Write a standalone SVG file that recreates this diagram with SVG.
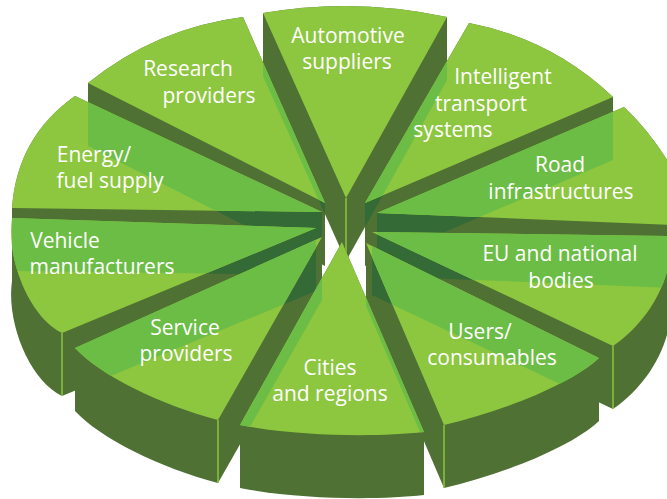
<svg xmlns="http://www.w3.org/2000/svg" xmlns:xlink="http://www.w3.org/1999/xlink" width="667" height="499" viewBox="0 0 667 499">
<style>
.top{fill:#8dc63f}
.mid{fill:#6cbd45}
.dk{fill:#4f7133}
.dk2{fill:#336a35}
.hl{stroke:#8dc63f;stroke-width:1.5;fill:none}
.lbl{font-family:"Open Sans","Noto Sans","Liberation Sans",sans-serif;font-size:21px;fill:#ffffff;text-anchor:middle}
</style>
<defs>
<path id="tAU" d="M346 198 L263 13 Q355 -3 447 17 Z"/>
<path id="tRE" d="M325 203 L88 83 Q156 28 243 17 Z"/>
<path id="tIN" d="M365 203 L469 23 Q552 39 613 97 Z"/>
<path id="tEN" d="M322 212 L75 96 Q17 137 12 208 Z"/>
<path id="tRO" d="M377 213 L624 107 Q670 150 700 226 Z"/>
<path id="tVE" d="M316 228 L12 218 C6 260 30 318 62 333 Z"/>
<path id="tEU" d="M372 232 L672 236 C672 280 650 320 613 346 Z"/>
<path id="tSE" d="M322 237 L75 348 C100 375 160 405 218 420 Z"/>
<path id="tUS" d="M366 243 L599 358 C570 385 500 412 444 425 Z"/>
<path id="tCI" d="M342 242 L424 432 C380 437 300 437 240 425 Z"/>

<path id="qAU1" d="M346 198 L263 13 L263 76 L346 261 Z"/>
<path id="qAU2" d="M346 198 L447 17 L447 80 L346 261 Z"/>
<path id="aAU" d="M263 13 Q355 -3 447 17 L447 80 Q355 60 263 76 Z"/>
<path id="qRE1" d="M325 203 L88 83 L88 146 L325 266 Z"/>
<path id="qRE2" d="M325 203 L243 17 L243 80 L325 266 Z"/>
<path id="aRE" d="M88 83 Q156 28 243 17 L243 80 Q156 91 88 146 Z"/>
<path id="qIN1" d="M365 203 L469 23 L469 86 L365 266 Z"/>
<path id="qIN2" d="M365 203 L613 97 L613 160 L365 266 Z"/>
<path id="aIN" d="M469 23 Q552 39 613 97 L613 160 Q552 102 469 86 Z"/>
<path id="qEN1" d="M322 212 L75 96 L75 159 L322 275 Z"/>
<path id="qEN2" d="M322 212 L12 208 L12 271 L322 275 Z"/>
<path id="aEN" d="M75 96 Q17 137 12 208 L12 271 Q17 200 75 159 Z"/>
<path id="qRO1" d="M377 213 L624 107 L624 170 L377 276 Z"/>
<path id="qRO2" d="M377 213 L700 226 L700 289 L377 276 Z"/>
<path id="aRO" d="M624 107 Q670 150 700 226 L700 289 Q670 213 624 170 Z"/>
<path id="qVE1" d="M316 228 L12 218 L12 281 L316 291 Z"/>
<path id="qVE2" d="M316 228 L62 333 L62 396 L316 291 Z"/>
<path id="aVE" d="M12 218 C6 260 30 318 62 333 L62 396 C30 381 6 323 12 281 Z"/>
<path id="qEU1" d="M372 232 L672 236 L672 299 L372 295 Z"/>
<path id="qEU2" d="M372 232 L613 346 L613 409 L372 295 Z"/>
<path id="aEU" d="M672 236 C672 280 650 320 613 346 L613 409 C650 383 672 343 672 299 Z"/>
<path id="qSE1" d="M322 237 L75 348 L75 411 L322 300 Z"/>
<path id="qSE2" d="M322 237 L218 420 L218 483 L322 300 Z"/>
<path id="aSE" d="M75 348 C100 375 160 405 218 420 L218 483 C160 468 100 438 75 411 Z"/>
<path id="qUS1" d="M366 243 L599 358 L599 421 L366 306 Z"/>
<path id="qUS2" d="M366 243 L444 425 L444 488 L366 306 Z"/>
<path id="aUS" d="M599 358 C570 385 500 412 444 425 L444 488 C500 475 570 448 599 421 Z"/>
<path id="qCI1" d="M342 242 L424 432 L424 495 L342 305 Z"/>
<path id="qCI2" d="M342 242 L240 425 L240 488 L342 305 Z"/>
<path id="aCI" d="M424 432 C380 437 300 437 240 425 L240 488 C300 500 380 500 424 495 Z"/>

<clipPath id="ctRE"><use xlink:href="#tRE"/></clipPath>
<clipPath id="ctIN"><use xlink:href="#tIN"/></clipPath>
<clipPath id="ctEN"><use xlink:href="#tEN"/></clipPath>
<clipPath id="ctRO"><use xlink:href="#tRO"/></clipPath>
<clipPath id="ctVE"><use xlink:href="#tVE"/></clipPath>
<clipPath id="ctEU"><use xlink:href="#tEU"/></clipPath>
<clipPath id="ctSE"><use xlink:href="#tSE"/></clipPath>
<clipPath id="ctUS"><use xlink:href="#tUS"/></clipPath>
<clipPath id="ctCI"><use xlink:href="#tCI"/></clipPath>

<clipPath id="cqRE"><use xlink:href="#qRE1"/></clipPath>
<clipPath id="cqIN"><use xlink:href="#qIN2"/></clipPath>
<clipPath id="cqEN"><use xlink:href="#qEN2"/></clipPath>
<clipPath id="cqRO"><use xlink:href="#qRO2"/></clipPath>
<clipPath id="cqVE"><use xlink:href="#qVE2"/></clipPath>
<clipPath id="cqEU"><use xlink:href="#qEU2"/></clipPath>
<clipPath id="cqSE"><use xlink:href="#qSE2"/></clipPath>
<clipPath id="cqUS"><use xlink:href="#qUS2"/></clipPath>

<clipPath id="cbAU"><use xlink:href="#tAU"/><use xlink:href="#tAU" transform="translate(0,63)"/><use xlink:href="#qAU1"/><use xlink:href="#qAU2"/><use xlink:href="#aAU"/></clipPath>
<clipPath id="cbRE"><use xlink:href="#tRE"/><use xlink:href="#tRE" transform="translate(0,63)"/><use xlink:href="#qRE1"/><use xlink:href="#qRE2"/><use xlink:href="#aRE"/></clipPath>
<clipPath id="cbIN"><use xlink:href="#tIN"/><use xlink:href="#tIN" transform="translate(0,63)"/><use xlink:href="#qIN1"/><use xlink:href="#qIN2"/><use xlink:href="#aIN"/></clipPath>
<clipPath id="cbEN"><use xlink:href="#tEN"/><use xlink:href="#tEN" transform="translate(0,63)"/><use xlink:href="#qEN1"/><use xlink:href="#qEN2"/><use xlink:href="#aEN"/></clipPath>
<clipPath id="cbRO"><use xlink:href="#tRO"/><use xlink:href="#tRO" transform="translate(0,63)"/><use xlink:href="#qRO1"/><use xlink:href="#qRO2"/><use xlink:href="#aRO"/></clipPath>
<clipPath id="cbVE"><use xlink:href="#tVE"/><use xlink:href="#tVE" transform="translate(0,63)"/><use xlink:href="#qVE1"/><use xlink:href="#qVE2"/><use xlink:href="#aVE"/></clipPath>
<clipPath id="cbEU"><use xlink:href="#tEU"/><use xlink:href="#tEU" transform="translate(0,63)"/><use xlink:href="#qEU1"/><use xlink:href="#qEU2"/><use xlink:href="#aEU"/></clipPath>
<clipPath id="cbSE"><use xlink:href="#tSE"/><use xlink:href="#tSE" transform="translate(0,63)"/><use xlink:href="#qSE1"/><use xlink:href="#qSE2"/><use xlink:href="#aSE"/></clipPath>
<clipPath id="cbUS"><use xlink:href="#tUS"/><use xlink:href="#tUS" transform="translate(0,63)"/><use xlink:href="#qUS1"/><use xlink:href="#qUS2"/><use xlink:href="#aUS"/></clipPath>
<clipPath id="cbCI"><use xlink:href="#tCI"/><use xlink:href="#tCI" transform="translate(0,63)"/><use xlink:href="#qCI1"/><use xlink:href="#qCI2"/><use xlink:href="#aCI"/></clipPath>
</defs>

<rect width="667" height="499" fill="#ffffff"/>

<g id="automotive-suppliers">
<rect class="dk" width="667" height="499" clip-path="url(#cbAU)"/>
<use xlink:href="#tAU" class="top"/>
<line class="hl" x1="346" y1="198" x2="346" y2="258"/>
<text class="lbl" x="348" y="43">Automotive</text>
<text class="lbl" x="347" y="69">suppliers</text>
</g>

<g id="research-providers">
<rect class="dk" width="667" height="499" clip-path="url(#cbRE)"/>
<g clip-path="url(#cqRE)"><rect class="dk2" width="667" height="499" clip-path="url(#cbAU)"/></g>
<use xlink:href="#tRE" class="top"/>
<g clip-path="url(#ctRE)"><rect class="mid" width="667" height="499" clip-path="url(#cbAU)"/></g>
<text class="lbl" x="188" y="76">Research</text>
<text class="lbl" x="209" y="103">providers</text>
</g>

<g id="intelligent-transport-systems">
<rect class="dk" width="667" height="499" clip-path="url(#cbIN)"/>
<g clip-path="url(#cqIN)"><rect class="dk2" width="667" height="499" clip-path="url(#cbAU)"/></g>
<use xlink:href="#tIN" class="top"/>
<g clip-path="url(#ctIN)"><rect class="mid" width="667" height="499" clip-path="url(#cbAU)"/></g>
<text class="lbl" x="503" y="84">Intelligent</text>
<text class="lbl" x="481" y="111">transport</text>
<text class="lbl" x="453" y="137">systems</text>
</g>

<g id="energy-fuel-supply">
<rect class="dk" width="667" height="499" clip-path="url(#cbEN)"/>
<g clip-path="url(#cqEN)"><rect class="dk2" width="667" height="499" clip-path="url(#cbRE)"/></g>
<use xlink:href="#tEN" class="top"/>
<g clip-path="url(#ctEN)"><rect class="mid" width="667" height="499" clip-path="url(#cbRE)"/></g>
<text class="lbl" x="94" y="162">Energy/</text>
<text class="lbl" x="110" y="188">fuel supply</text>
</g>

<g id="road-infrastructures">
<rect class="dk" width="667" height="499" clip-path="url(#cbRO)"/>
<g clip-path="url(#cqRO)"><rect class="dk2" width="667" height="499" clip-path="url(#cbIN)"/></g>
<use xlink:href="#tRO" class="top"/>
<g clip-path="url(#ctRO)"><rect class="mid" width="667" height="499" clip-path="url(#cbIN)"/></g>
<text class="lbl" x="560" y="172">Road</text>
<text class="lbl" x="561" y="199">infrastructures</text>
</g>

<g id="vehicle-manufacturers">
<rect class="dk" width="667" height="499" clip-path="url(#cbVE)"/>
<g clip-path="url(#cqVE)"><rect class="dk2" width="667" height="499" clip-path="url(#cbEN)"/></g>
<use xlink:href="#tVE" class="top"/>
<g clip-path="url(#ctVE)"><rect class="mid" width="667" height="499" clip-path="url(#cbEN)"/></g>
<line class="hl" x1="62" y1="333" x2="62" y2="396"/>
<text class="lbl" x="65" y="248">Vehicle</text>
<text class="lbl" x="102" y="274">manufacturers</text>
</g>

<g id="eu-and-national-bodies">
<rect class="dk" width="667" height="499" clip-path="url(#cbEU)"/>
<g clip-path="url(#cqEU)"><rect class="dk2" width="667" height="499" clip-path="url(#cbRO)"/></g>
<use xlink:href="#tEU" class="top"/>
<g clip-path="url(#ctEU)"><rect class="mid" width="667" height="499" clip-path="url(#cbRO)"/></g>
<line class="hl" x1="613" y1="346" x2="613" y2="409"/>
<text class="lbl" x="560" y="261">EU and national</text>
<text class="lbl" x="561" y="288">bodies</text>
</g>

<g id="service-providers">
<rect class="dk" width="667" height="499" clip-path="url(#cbSE)"/>
<g clip-path="url(#cqSE)"><rect class="dk2" width="667" height="499" clip-path="url(#cbVE)"/></g>
<use xlink:href="#tSE" class="top"/>
<g clip-path="url(#ctSE)"><rect class="mid" width="667" height="499" clip-path="url(#cbVE)"/></g>
<line class="hl" x1="218" y1="420" x2="218" y2="483"/>
<text class="lbl" x="185" y="335">Service</text>
<text class="lbl" x="186" y="361">providers</text>
</g>

<g id="users-consumables">
<rect class="dk" width="667" height="499" clip-path="url(#cbUS)"/>
<g clip-path="url(#cqUS)"><rect class="dk2" width="667" height="499" clip-path="url(#cbEU)"/></g>
<use xlink:href="#tUS" class="top"/>
<g clip-path="url(#ctUS)"><rect class="mid" width="667" height="499" clip-path="url(#cbEU)"/></g>
<line class="hl" x1="444" y1="425" x2="444" y2="488"/>
<text class="lbl" x="480" y="339">Users/</text>
<text class="lbl" x="492" y="365">consumables</text>
</g>

<g id="cities-and-regions">
<rect class="dk" width="667" height="499" clip-path="url(#cbCI)"/>
<use xlink:href="#tCI" class="top"/>
<g clip-path="url(#ctCI)"><rect class="mid" width="667" height="499" clip-path="url(#cbSE)"/><rect class="mid" width="667" height="499" clip-path="url(#cbUS)"/></g>
<text class="lbl" x="330" y="375">Cities</text>
<text class="lbl" x="330" y="401">and regions</text>
</g>
</svg>
